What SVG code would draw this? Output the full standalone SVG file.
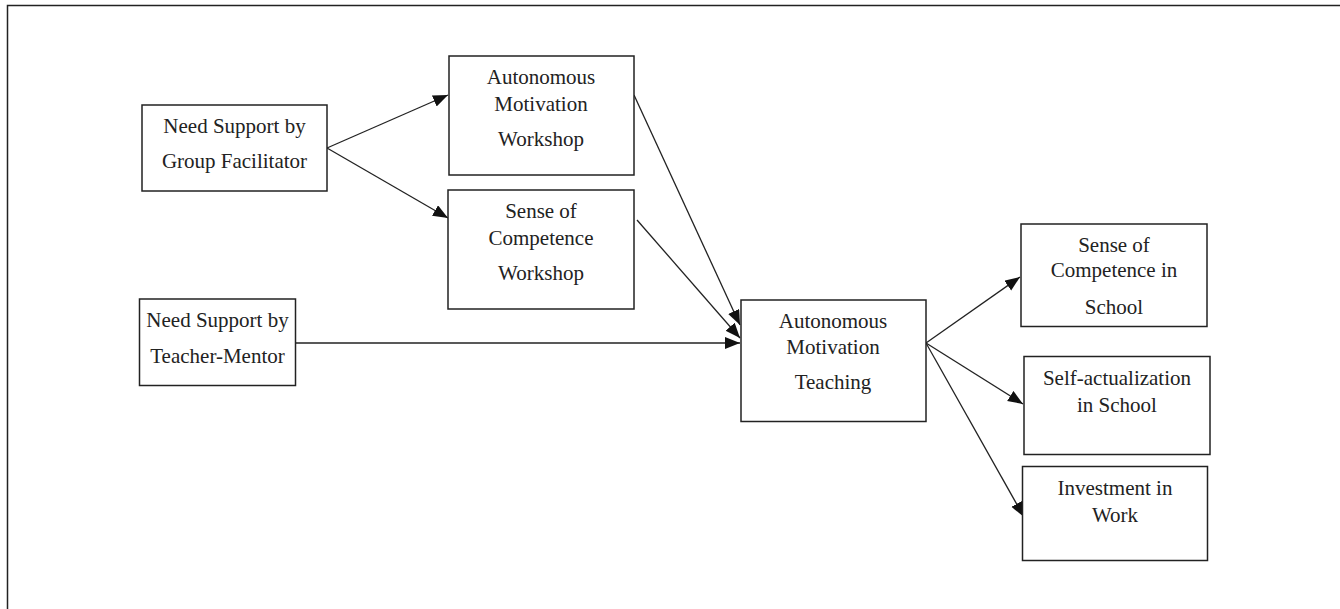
<svg xmlns="http://www.w3.org/2000/svg" width="1340" height="609" viewBox="0 0 1340 609">
<defs>
<style>
.box{fill:#fff;stroke:#222;stroke-width:1.5}
.t{font-family:"Liberation Serif","Times New Roman",serif;font-size:21px;fill:#222;text-anchor:middle}
.c{stroke:#222;stroke-width:1.3;fill:none;marker-end:url(#ah)}
</style>
<marker id="ah" markerUnits="userSpaceOnUse" markerWidth="16" markerHeight="13" refX="15" refY="6" orient="auto">
<path d="M0,0 L15,6 L0,12 z" fill="#111"/>
</marker>
</defs>
<rect width="1340" height="609" fill="#fff"/>
<path d="M7.5,609 V5.5 H1340" fill="none" stroke="#222" stroke-width="1.5"/>
<g id="connectors">
<line class="c" x1="327" y1="148" x2="448" y2="95"/>
<line class="c" x1="327" y1="148" x2="448" y2="218"/>
<line class="c" x1="634" y1="95" x2="740" y2="325"/>
<line class="c" x1="637" y1="220" x2="740" y2="338"/>
<line class="c" x1="296" y1="343" x2="740" y2="343"/>
<line class="c" x1="926" y1="343" x2="1020" y2="277"/>
<line class="c" x1="926" y1="343" x2="1023" y2="404"/>
<line class="c" x1="926" y1="343" x2="1024" y2="517"/>
</g>
<g id="n-group-facilitator">
<rect class="box" x="142" y="105" width="185" height="86"/>
<text class="t" x="234.5" y="133">Need Support by</text>
<text class="t" x="234.5" y="168">Group Facilitator</text>
</g>
<g id="n-teacher-mentor">
<rect class="box" x="139.5" y="299" width="156" height="86.5"/>
<text class="t" x="217.5" y="327">Need Support by</text>
<text class="t" x="217.5" y="362.5">Teacher-Mentor</text>
</g>
<g id="n-am-workshop">
<rect class="box" x="449" y="56" width="185" height="119"/>
<text class="t" x="541" y="84">Autonomous</text>
<text class="t" x="541" y="111">Motivation</text>
<text class="t" x="541" y="146">Workshop</text>
</g>
<g id="n-sc-workshop">
<rect class="box" x="448" y="190" width="186" height="119"/>
<text class="t" x="541" y="218">Sense of</text>
<text class="t" x="541" y="245">Competence</text>
<text class="t" x="541" y="280">Workshop</text>
</g>
<g id="n-am-teaching">
<rect class="box" x="741" y="300" width="185" height="121.5"/>
<text class="t" x="833" y="327.5">Autonomous</text>
<text class="t" x="833" y="354">Motivation</text>
<text class="t" x="833" y="389">Teaching</text>
</g>
<g id="n-sc-school">
<rect class="box" x="1021" y="224" width="186" height="102.5"/>
<text class="t" x="1114" y="252">Sense of</text>
<text class="t" x="1114" y="276.5">Competence in</text>
<text class="t" x="1114" y="314">School</text>
</g>
<g id="n-self-actualization">
<rect class="box" x="1024" y="356.5" width="186" height="98"/>
<text class="t" x="1117" y="385">Self-actualization</text>
<text class="t" x="1117" y="411.5">in School</text>
</g>
<g id="n-investment">
<rect class="box" x="1022.5" y="466.5" width="185" height="94"/>
<text class="t" x="1115" y="495">Investment in</text>
<text class="t" x="1115" y="521.5">Work</text>
</g>
</svg>
